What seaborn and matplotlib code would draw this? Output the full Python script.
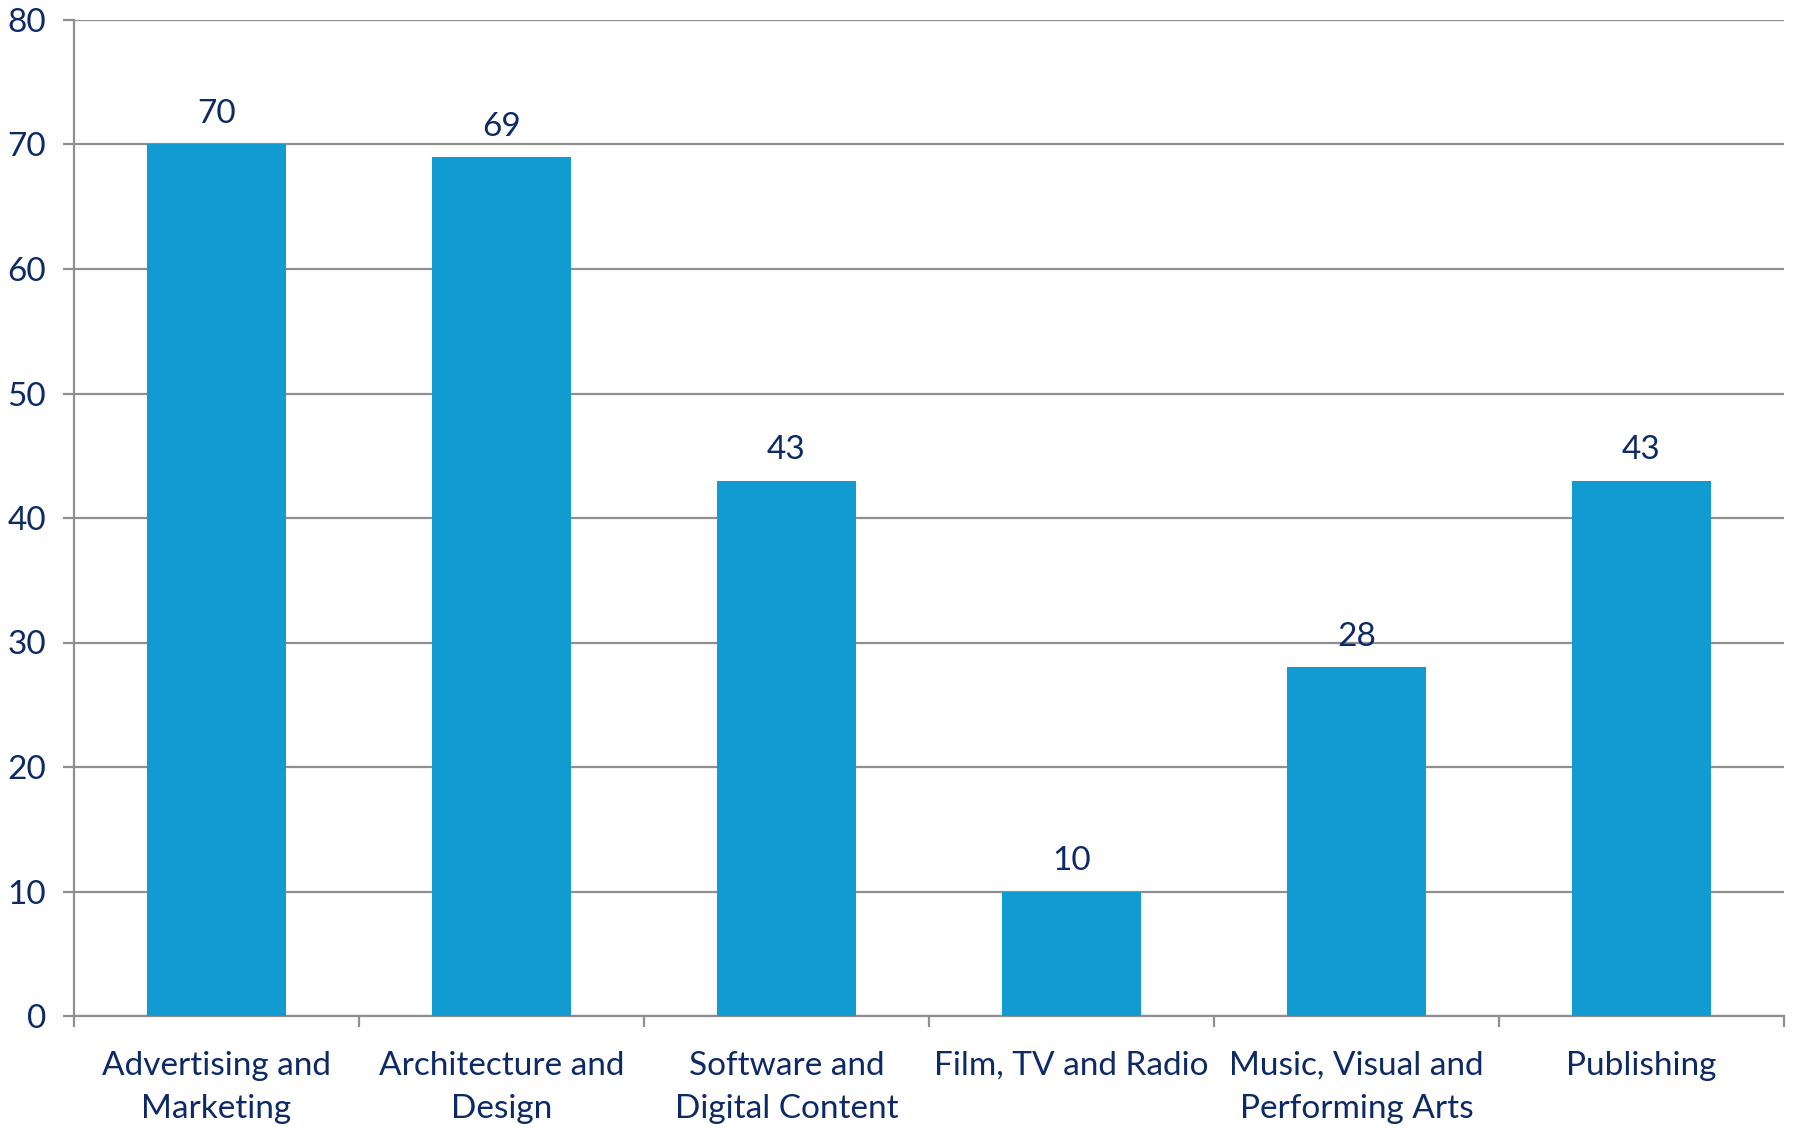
import matplotlib
matplotlib.use("Agg")
import matplotlib.pyplot as plt
import seaborn as sns
import pandas as pd

categories = ["Advertising and\nMarketing", "Architecture and\nDesign", "Software and\nDigital Content",
              "Film, TV and Radio", "Music, Visual and\nPerforming Arts", "Publishing"]
values = [70, 69, 43, 10, 28, 43]
yticks = [0, 10, 20, 30, 40, 50, 60, 70, 80]

sns.set_theme(style="white")
plt.rcParams['font.family'] = ['Lato', 'DejaVu Sans']

text_color = "#0d2a66"
bar_color = "#129bd0"
grid_color = "#8f8f8f"
fs = 24

df = pd.DataFrame({"cat": categories, "val": values})

fig = plt.figure(figsize=(17.93, 11.28), dpi=100)
ax = fig.add_axes([74/1793, 1 - 1016/1128, (1784-74)/1793, (1016-20)/1128])

sns.barplot(data=df, x="cat", y="val", color=bar_color, width=0.49, saturation=1,
            linewidth=0, ax=ax, zorder=3)

ax.set_ylim(0, 80)
ax.set_xlim(-0.5, len(categories) - 0.5)
ax.set_yticks(yticks)
ax.set_yticklabels([str(t) for t in yticks], fontsize=fs, color=text_color)
ax.yaxis.grid(True, color=grid_color, linewidth=1.6, zorder=0)
ax.set_axisbelow(True)

ax.set_xticks(range(len(categories)))
ax.set_xticklabels(categories, fontsize=fs, color=text_color, linespacing=1.55)
ax.tick_params(axis='x', length=0, pad=25)
# boundary ticks
ax.set_xticks([i - 0.5 for i in range(len(categories) + 1)], minor=True)
ax.tick_params(axis='x', which='minor', length=8, width=1.6, color=grid_color, direction='out', bottom=True)
ax.tick_params(axis='y', length=8, width=1.6, color=grid_color, pad=12, direction='out', left=True)

for s in ["top", "right"]:
    ax.spines[s].set_visible(False)
for s in ["left", "bottom"]:
    ax.spines[s].set_color(grid_color)
    ax.spines[s].set_linewidth(1.6)

ax.set_xlabel("")
ax.set_ylabel("")

for c in ax.containers:
    ax.bar_label(c, labels=[str(v) for v in values], padding=11, fontsize=fs, color=text_color)

fig.savefig("out.png", dpi=100, facecolor="white")
